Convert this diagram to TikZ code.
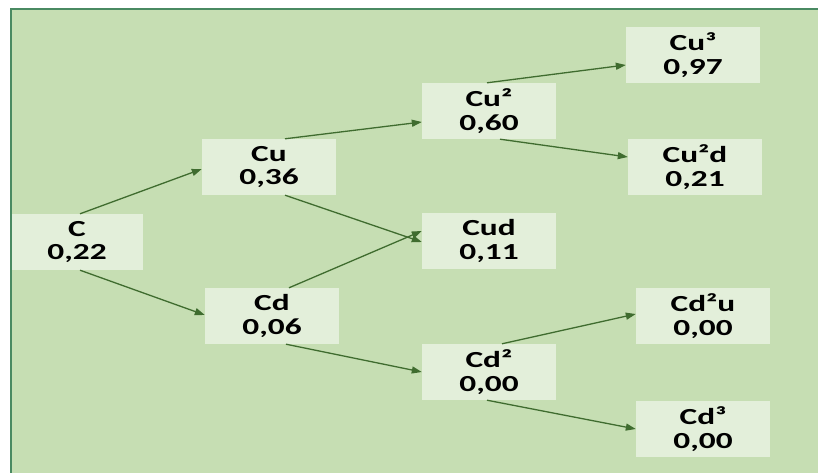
\documentclass[tikz,border=0pt]{standalone}
\usepackage{fontspec}
\setmainfont{Carlito}[FakeStretch=1.45]
\usepackage{xcolor}
\definecolor{leaf}{HTML}{C6DEB3}
\definecolor{paleleaf}{HTML}{E3EFDA}
\definecolor{frame}{HTML}{4A8A62}
\definecolor{stem}{HTML}{3F6C2F}
\usetikzlibrary{arrows.meta}

\begin{document}
\begin{tikzpicture}[x=1pt, y=-1pt,
    cell/.style={fill=paleleaf, minimum width=134pt, minimum height=56pt, align=center,
                 inner sep=0pt, font=\fontsize{23}{23.5}\selectfont\bfseries},
    steparrow/.style={draw=stem, line width=1.3pt, -{Triangle[length=10pt, width=7pt]}}]
    \useasboundingbox[clip] (0,0) rectangle (818,473);
    \fill[leaf] (10,8) rectangle (818,473);
    \draw[frame, line width=2pt] (11,473) -- (11,9) -- (818,9);

    % tree of values
    \node[cell, minimum width=131pt] (c) at (77,242) {C\\0,22};
    \node[cell] (cu) at (269,167) {Cu\\0,36};
    \node[cell] (cd) at (272,316) {Cd\\0,06};
    \node[cell] (cu2) at (489,111) {Cu²\\0,60};
    \node[cell] (cud) at (489,241) {Cud\\0,11};
    \node[cell] (cd2) at (489,372) {Cd²\\0,00};
    \node[cell] (cu3) at (693,55) {Cu³\\0,97};
    \node[cell] (cu2d) at (695,167) {Cu²d\\0,21};
    \node[cell] (cd2u) at (703,316) {Cd²u\\0,00};
    \node[cell] (cd3) at (703,429) {Cd³\\0,00};

    \draw[steparrow] ([xshift=3pt]c.north) -- ([yshift=-2pt]cu.west);
    \draw[steparrow] ([xshift=3pt]c.south) -- ([yshift=1pt]cd.west);
    \draw[steparrow] ([xshift=16pt]cu.north) -- ([yshift=-11pt]cu2.west);
    \draw[steparrow] ([xshift=16pt]cu.south) -- ([yshift=-1pt]cud.west);
    \draw[steparrow] ([xshift=17pt]cd.north) -- ([yshift=10pt]cud.west);
    \draw[steparrow] ([xshift=14pt]cd.south) -- (cd2.west);
    \draw[steparrow] ([xshift=-2pt]cu2.north) -- ([yshift=-10pt]cu3.west);
    \draw[steparrow] ([xshift=11pt]cu2.south) -- ([yshift=10pt]cu2d.west);
    \draw[steparrow] ([xshift=13pt]cd2.north) -- ([yshift=2pt]cd2u.west);
    \draw[steparrow] ([xshift=-2pt]cd2.south) -- (cd3.west);
\end{tikzpicture}
\end{document}
